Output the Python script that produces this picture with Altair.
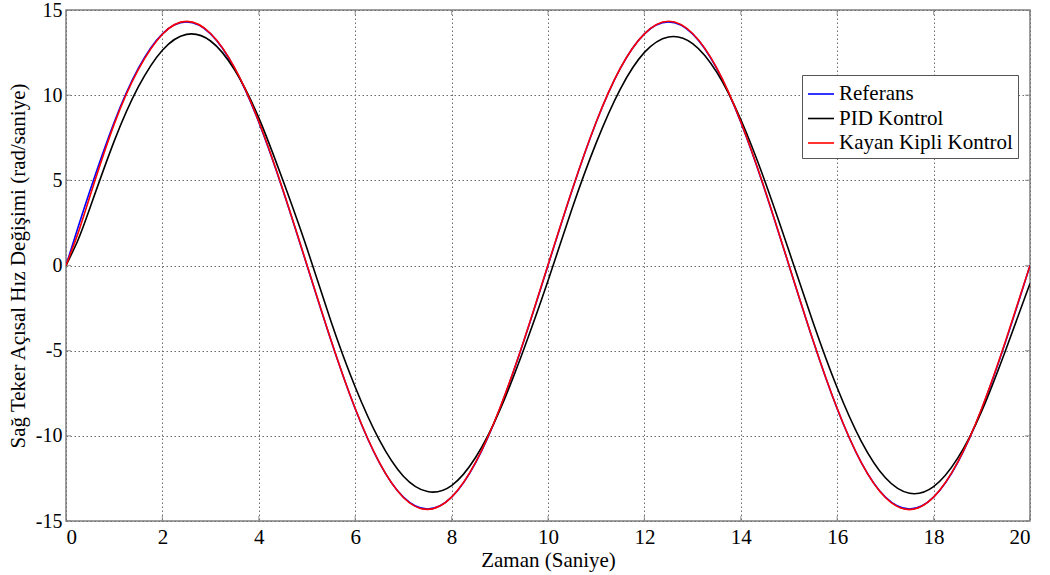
import altair as alt
import pandas as pd

# time samples (s)
t = [0, 0.25, 0.5, 1, 1.5, 2, 2.5, 3, 3.5, 4, 4.5, 5, 5.5, 6, 6.5, 7, 7.5, 8, 8.5, 9, 9.5, 10,
     10.5, 11, 11.5, 12, 12.5, 13, 13.5, 14, 14.5, 15, 15.5, 16, 16.5, 17, 17.5, 18, 18.5, 19, 19.5, 20]

referans = [0, 2.24, 4.42, 8.41, 11.57, 13.60, 14.30, 13.60, 11.57, 8.41, 4.42, 0,
            -4.42, -8.41, -11.57, -13.60, -14.30, -13.60, -11.57, -8.41, -4.42, 0,
            4.42, 8.41, 11.57, 13.60, 14.30, 13.60, 11.57, 8.41, 4.42, 0,
            -4.42, -8.41, -11.57, -13.60, -14.30, -13.60, -11.57, -8.41, -4.42, 0]

pid = [0, 1.5, 3.4, 7.3, 10.48, 12.64, 13.57, 13.18, 11.48, 8.67, 5.0, 1.0,
       -3.3, -7.13, -10.24, -12.37, -13.27, -12.92, -11.26, -8.5, -4.9, -0.9,
       3.35, 7.2, 10.36, 12.51, 13.42, 13.03, 11.35, 8.57, 4.95, 0.85,
       -3.34, -7.18, -10.32, -12.46, -13.37, -12.98, -11.31, -8.54, -4.93, -1.05]

kayan = [0, 1.9, 4.1, 8.3, 11.5, 13.58, 14.33, 13.62, 11.6, 8.45, 4.45, 0.03,
         -4.4, -8.4, -11.56, -13.62, -14.32, -13.6, -11.55, -8.38, -4.4, 0.03,
         4.43, 8.42, 11.58, 13.6, 14.34, 13.62, 11.6, 8.44, 4.45, 0.02,
         -4.4, -8.4, -11.57, -13.62, -14.33, -13.6, -11.55, -8.38, -4.38, 0.0]

series_names = ["Referans", "PID Kontrol", "Kayan Kipli Kontrol"]
series_colors = ["#0000ff", "#000000", "#ff0000"]

x_ticks = [0, 2, 4, 6, 8, 10, 12, 14, 16, 18, 20]
y_ticks = [-15, -10, -5, 0, 5, 10, 15]

rows = []
for name, vals in zip(series_names, [referans, pid, kayan]):
    for ti, v in zip(t, vals):
        rows.append({"t": ti, "v": v, "seri": name})
df = pd.DataFrame(rows)

FONT = "Liberation Serif"
xs = alt.Scale(domain=[0, 20], nice=False, zero=False)
ys = alt.Scale(domain=[-15, 15], nice=False, zero=False)

lines = alt.Chart(df).mark_line(strokeWidth=1.6, interpolate="natural", clip=True).encode(
    x=alt.X("t:Q", scale=xs,
            axis=alt.Axis(values=x_ticks, title="Zaman (Saniye)", labelExpr="datum.value + ''")),
    y=alt.Y("v:Q", scale=ys,
            axis=alt.Axis(values=y_ticks, title="Sağ Teker Açısal Hız Değişimi (rad/saniye)",
                          labelExpr="datum.value + ''")),
    color=alt.Color("seri:N",
                    scale=alt.Scale(domain=series_names, range=series_colors),
                    sort=series_names,
                    legend=alt.Legend(title=None)),
    order=alt.Order("t:Q"),
)

# inward tick marks on all four sides
xt_rows = [{"x": x, "y": yy} for x in x_ticks for yy in (-15, 15)]
yt_rows = [{"x": xx, "y": y} for y in y_ticks for xx in (0, 20)]

xtick_layer = alt.Chart(pd.DataFrame(xt_rows)).mark_tick(
    orient="vertical", size=10, thickness=1.2, color="#808080", clip=True
).encode(x=alt.X("x:Q", scale=xs), y=alt.Y("y:Q", scale=ys))

ytick_layer = alt.Chart(pd.DataFrame(yt_rows)).mark_tick(
    orient="horizontal", size=10, thickness=1.2, color="#808080", clip=True
).encode(x=alt.X("x:Q", scale=xs), y=alt.Y("y:Q", scale=ys))

chart = alt.layer(xtick_layer, ytick_layer, lines).properties(
    width=964, height=511,
    autosize=alt.AutoSizeParams(type="none"),
    padding={"left": 66, "top": 10, "right": 20, "bottom": 54},
    background="white",
).configure_view(
    stroke="#808080", strokeWidth=1.5
).configure_axis(
    domain=False, ticks=False,
    grid=True, gridColor="#6e6e6e", gridDash=[1.5, 2.5], gridWidth=1, gridOpacity=1,
    labelFont=FONT, labelFontSize=21, labelColor="#000000",
    titleFont=FONT, titleFontSize=21, titleFontWeight="normal", titleColor="#000000",
).configure_axisX(
    labelPadding=5, titlePadding=2
).configure_axisY(
    labelPadding=4, titlePadding=7, labelFontSize=20
).configure_legend(
    orient="none", legendX=736, legendY=65,
    strokeColor="#555555", fillColor="white", padding=5,
    labelFont=FONT, labelFontSize=21, labelColor="#000000", labelLimit=400,
    symbolType="stroke", symbolSize=676, symbolStrokeWidth=1.6,
    rowPadding=0.5, labelOffset=4, cornerRadius=0,
)

chart.save("out.html", embed_options={"renderer": "svg", "actions": False})
